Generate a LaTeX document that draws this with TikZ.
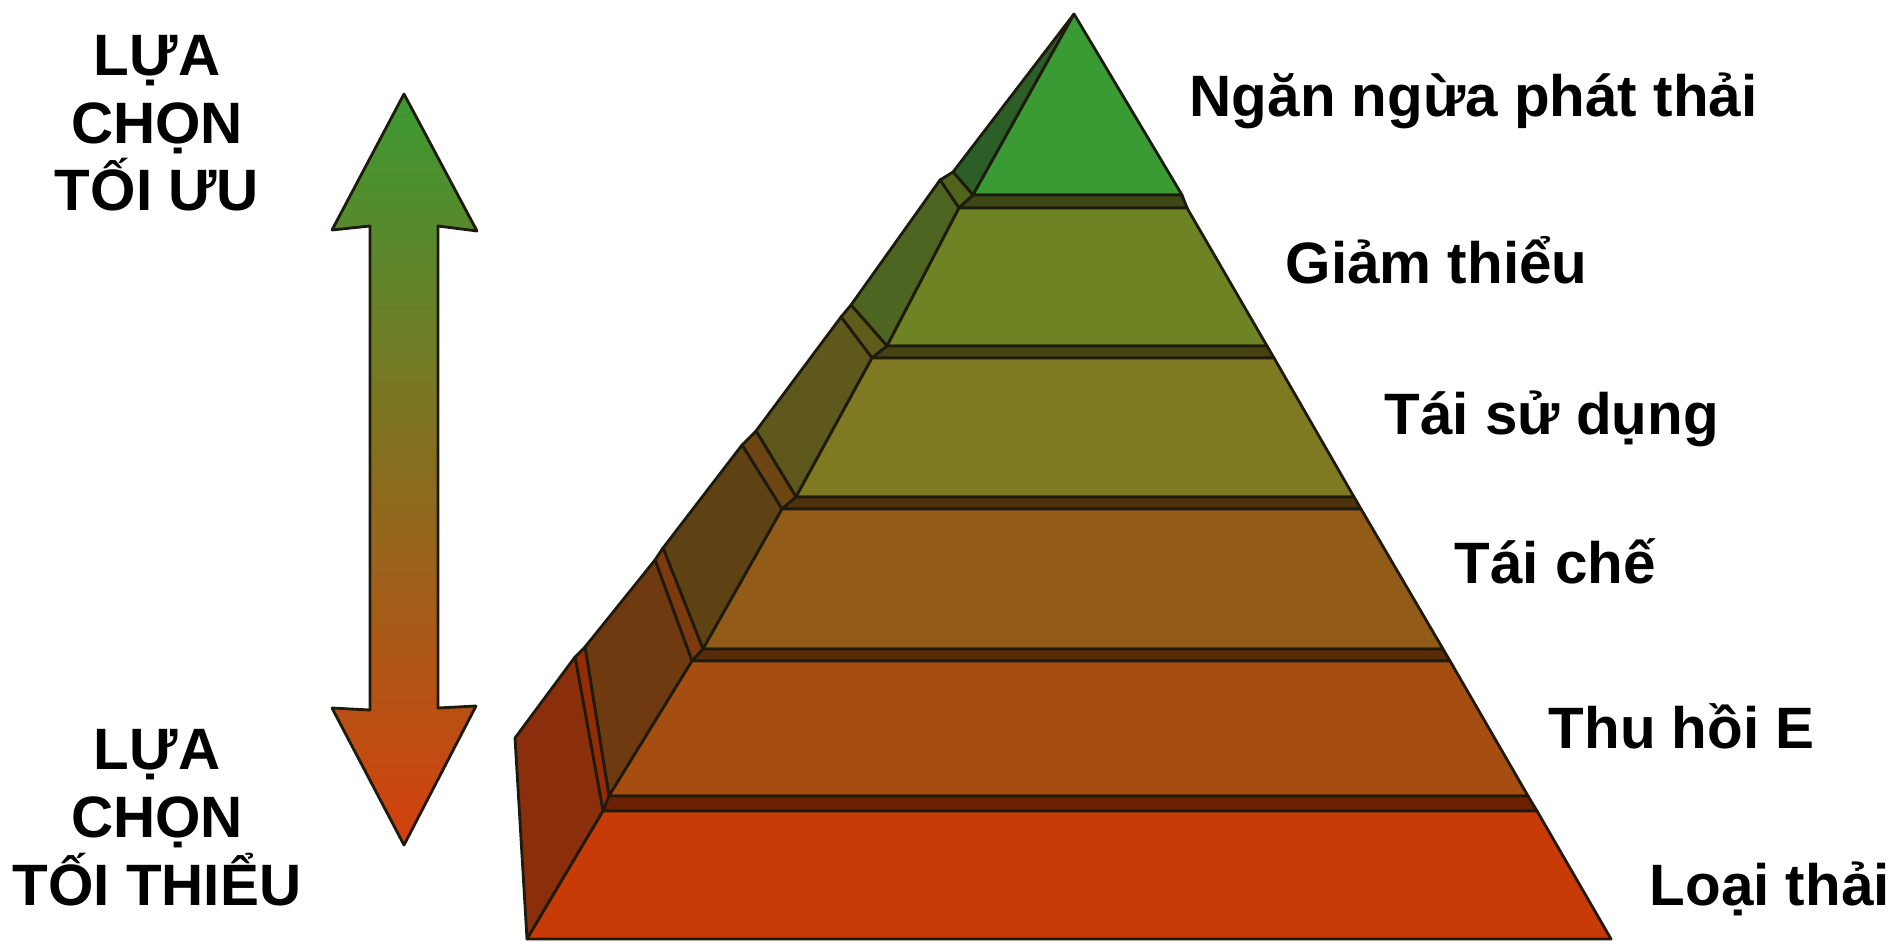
\documentclass[tikz,border=0pt]{standalone}
\usepackage{fontspec}
\setmainfont{Liberation Sans}
\usetikzlibrary{positioning}
\definecolor{layerA}{HTML}{3A9B35}
\definecolor{layerB}{HTML}{6E8424}
\definecolor{layerC}{HTML}{7F7A22}
\definecolor{layerD}{HTML}{925C18}
\definecolor{layerE}{HTML}{A64E12}
\definecolor{layerF}{HTML}{C83A06}
\definecolor{sideA}{HTML}{2C5E28}
\definecolor{sideB}{HTML}{4E6522}
\definecolor{sideC}{HTML}{5E581C}
\definecolor{sideD}{HTML}{5E4214}
\definecolor{sideE}{HTML}{703A10}
\definecolor{sideF}{HTML}{8A2E0C}
\definecolor{arrowtop}{HTML}{3C9A32}
\definecolor{arrowmid}{HTML}{8A6C1C}
\definecolor{arrowbot}{HTML}{D4400C}
\definecolor{ink}{HTML}{1E1A0E}

\begin{document}
\begin{tikzpicture}[x=0.01cm, y=-0.01cm, font=\bfseries\fontsize{16.6}{19.2}\selectfont,
  face/.style={draw=ink, line width=0.8pt, line join=round},
  band/.style={face, fill=#1!55!black},
  edge/.style={face, fill=#1!75!black},
  tierlabel/.style={anchor=base west, inner sep=0pt},
  choice/.style={align=center, anchor=base, inner sep=0pt}]
\fill[white] (0,0) rectangle (1892,943);
\useasboundingbox (0,0) rectangle (1892,943);

% double arrow
\shadedraw[face, top color=arrowtop, middle color=arrowmid, bottom color=arrowbot]
  (404,94) -- (477,231) -- (438,226) -- (438,708) -- (476,706) -- (404,845)
  -- (332,708) -- (370,710) -- (370,226) -- (332,230) -- cycle;

% pyramid, top to bottom
\path[face, fill=sideA] (1074,14) -- (953,172) -- (973,195) -- cycle;
\path[face, fill=layerA] (1074,14) -- (1182,195) -- (973,195) -- cycle;

\path[edge=layerB] (953,172) -- (973,195) -- (959,208) -- (940,180) -- cycle;
\path[band=layerB] (973,195) -- (1182,195) -- (1187,208) -- (959,208) -- cycle;
\path[face, fill=sideB] (940,180) -- (959,208) -- (887,346) -- (851,305) -- cycle;
\path[face, fill=layerB] (959,208) -- (1187,208) -- (1267,346) -- (887,346) -- cycle;

\path[edge=layerC] (851,305) -- (887,346) -- (872,358) -- (841,317) -- cycle;
\path[band=layerC] (887,346) -- (1267,346) -- (1274,358) -- (872,358) -- cycle;
\path[face, fill=sideC] (841,317) -- (872,358) -- (796,497) -- (756,431) -- cycle;
\path[face, fill=layerC] (872,358) -- (1274,358) -- (1354,497) -- (796,497) -- cycle;

\path[edge=layerD] (756,431) -- (796,497) -- (782,509) -- (742,445) -- cycle;
\path[band=layerD] (796,497) -- (1354,497) -- (1361,509) -- (782,509) -- cycle;
\path[face, fill=sideD] (742,445) -- (782,509) -- (703,649) -- (663,548) -- cycle;
\path[face, fill=layerD] (782,509) -- (1361,509) -- (1443,649) -- (703,649) -- cycle;

\path[edge=layerE] (663,548) -- (703,649) -- (692,661) -- (655,560) -- cycle;
\path[band=layerE] (703,649) -- (1443,649) -- (1450,661) -- (692,661) -- cycle;
\path[face, fill=sideE] (655,560) -- (692,661) -- (609,796) -- (585,647) -- cycle;
\path[face, fill=layerE] (692,661) -- (1450,661) -- (1528,796) -- (609,796) -- cycle;

\path[edge=layerF] (585,647) -- (609,796) -- (603,811) -- (575,657) -- cycle;
\path[band=layerF] (609,796) -- (1528,796) -- (1537,811) -- (603,811) -- cycle;
\path[face, fill=sideF] (575,657) -- (603,811) -- (527,939) -- (515,738) -- cycle;
\path[face, fill=layerF] (603,811) -- (1537,811) -- (1611,939) -- (527,939) -- cycle;

\node[tierlabel] (ngan) at (1189,117) {Ngăn ngừa phát thải};
\node[tierlabel] (giam) at (1285,284) {Giảm thiểu};
\node[tierlabel] (taisd) at (1384,434) {Tái sử dụng};
\node[tierlabel] (taiche) at (1454,583) {Tái chế};
\node[tierlabel] (thuhoi) at (1548,748) {Thu hồi E};
\node[tierlabel] (loai) at (1649,905) {Loại thải};

\node[choice] (toiuu) at (157,211) {LỰA\\CHỌN\\TỐI ƯU};
\node[choice] (toithieu) at (157,905) {LỰA\\CHỌN\\TỐI THIỂU};
\end{tikzpicture}
\end{document}
